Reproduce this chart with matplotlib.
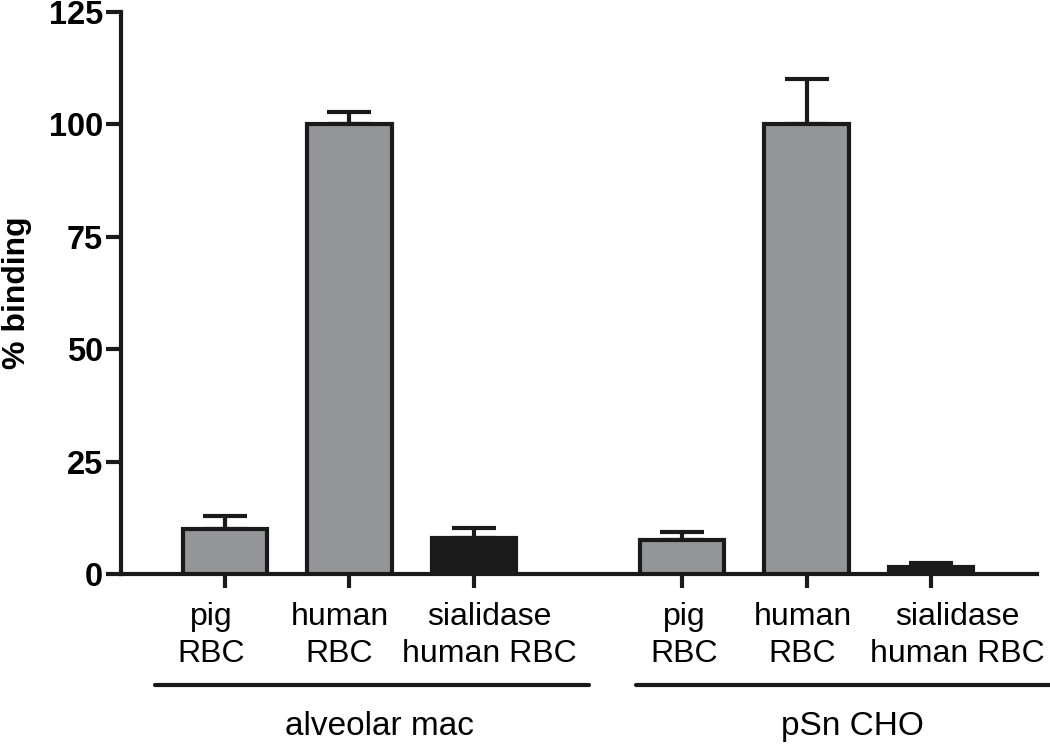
import numpy as np
import matplotlib
matplotlib.use("Agg")
import matplotlib.pyplot as plt
import matplotlib.transforms as mtransforms

# data
labels = ["pig\nRBC", "human\nRBC", "sialidase\nhuman RBC",
          "pig\nRBC", "human\nRBC", "sialidase\nhuman RBC"]
groups = ["alveolar mac", "pSn CHO"]
binding = [10.0, 100.0, 7.9, 7.6, 100.0, 1.5]
sem = [2.9, 2.8, 2.3, 1.8, 10.2, 1.0]
fills = ["#939598", "#939598", "#1a1a1a", "#939598", "#939598", "#1a1a1a"]

plt.rcParams['font.family'] = ['Liberation Sans', 'DejaVu Sans']

x = np.array([0, 1, 2, 3.67, 4.67, 5.67])

fig = plt.figure(figsize=(10.5, 7.47), dpi=100)
ax = fig.add_axes([0.1152, 0.2316, 0.8724, 0.7523])

lw = 3.0
ax.errorbar(x, binding, yerr=[np.zeros(len(sem)), sem], fmt='none',
            ecolor='#1a1a1a', elinewidth=lw, capsize=16, capthick=lw, zorder=2)
ax.bar(x, binding, width=0.68, color=fills, edgecolor='#1a1a1a',
       linewidth=lw, zorder=3)

ax.set_xlim(-0.835, 6.52)
ax.set_ylim(0, 125)
ax.set_yticks([0, 25, 50, 75, 100, 125])
ax.set_xticks(x)
ax.set_xticklabels([])
# category labels drawn as text, nudged off their ticks like the original
shifts = [-14, -10, 15, 2, -4, 26]
for xi, lab, dx in zip(x, labels, shifts):
    tr = ax.get_xaxis_transform() + mtransforms.ScaledTranslation(
        dx / 100, -0.28, fig.dpi_scale_trans)
    ax.text(xi, 0, lab, transform=tr, fontsize=23, linespacing=1.3,
            ha='center', va='top', multialignment='center')
for t in ax.get_yticklabels():
    t.set_fontsize(23.5)
    t.set_fontweight('bold')
ax.tick_params(axis='y', length=11, width=lw, pad=2, color='#1a1a1a')
ax.tick_params(axis='x', length=10, width=lw, color='#1a1a1a')

for s in ['top', 'right']:
    ax.spines[s].set_visible(False)
for s in ['left', 'bottom']:
    ax.spines[s].set_linewidth(lw)
    ax.spines[s].set_color('#1a1a1a')

ax.set_ylabel("% binding", fontsize=23, fontweight='bold', labelpad=12)

# group underline and name
spans = [(-0.56, 2.92), (3.3, 6.65)]
for (a, b), g in zip(spans, groups):
    ax.plot([a, b], [-24.6, -24.6], color='#1a1a1a', lw=lw,
            clip_on=False, solid_capstyle='round')
    ax.text((a + b) / 2 + 0.06, -33.9, g, fontsize=24, ha='center', va='center')

fig.savefig("out.png", dpi=100)
